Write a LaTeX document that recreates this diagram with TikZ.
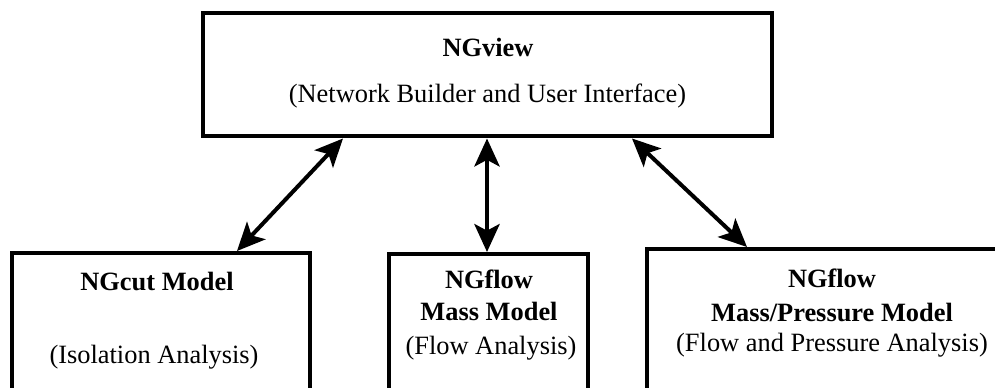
\documentclass[tikz,border=0pt]{standalone}
\usepackage{fontspec}
\setmainfont{Liberation Serif}
\usetikzlibrary{arrows.meta,calc}
\begin{document}
\begin{tikzpicture}[x=0.75pt,y=-0.75pt,
  box/.style={draw,line width=3pt,inner sep=0pt},
  txt/.style={anchor=base,inner sep=0pt,font=\fontsize{19.8}{24}\selectfont},
  btxt/.style={txt,font=\fontsize{19.8}{24}\selectfont\bfseries},
  link/.style={line width=3pt,{Stealth[length=21pt,width=19pt,inset=5pt]}-{Stealth[length=21pt,width=19pt,inset=5pt]}}]
\useasboundingbox (0,0) rectangle (995,388);
\node[box,minimum width=426.4pt,minimum height=92.25pt] (top) at (487.5,75) {};
\node[box,minimum width=223.5pt,minimum height=110.25pt] (cut) at (161,326.5) {};
\node[box,minimum width=149.25pt,minimum height=109.5pt] (mass) at (488.5,327) {};
\node[box,minimum width=279.75pt,minimum height=113.25pt] (press) at (833.5,324.5) {};
% texts
\node[btxt] (t1) at (488,56.5) {NGview};
\node[txt] (t2) at (487.5,102.5) {(Network Builder and User Interface)};
\node[btxt] (c1) at (157,290) {NGcut Model};
\node[txt] (c2) at (154,363) {(Isolation Analysis)};
\node[btxt] (m1) at (489,288) {NGflow};
\node[btxt] (m2) at (489,320) {Mass Model};
\node[txt] (m3) at (491,354) {(Flow Analysis)};
\node[btxt] (p1) at (832,287) {NGflow};
\node[btxt] (p2) at (832,321) {Mass/Pressure Model};
\node[txt] (p3) at (832,351) {(Flow and Pressure Analysis)};
% connectors
\coordinate (ma) at ($(top.south)+(-0.5,0)$);
\draw[link] ($(top.south)+(-144.5,0)$) -- ($(cut.north)+(76,0)$);
\draw[link] (ma) -- (ma |- mass.north);
\draw[link] ($(top.south)+(144.5,0)$) -- ($(press.north)+(-86.5,0)$);
\end{tikzpicture}
\end{document}
